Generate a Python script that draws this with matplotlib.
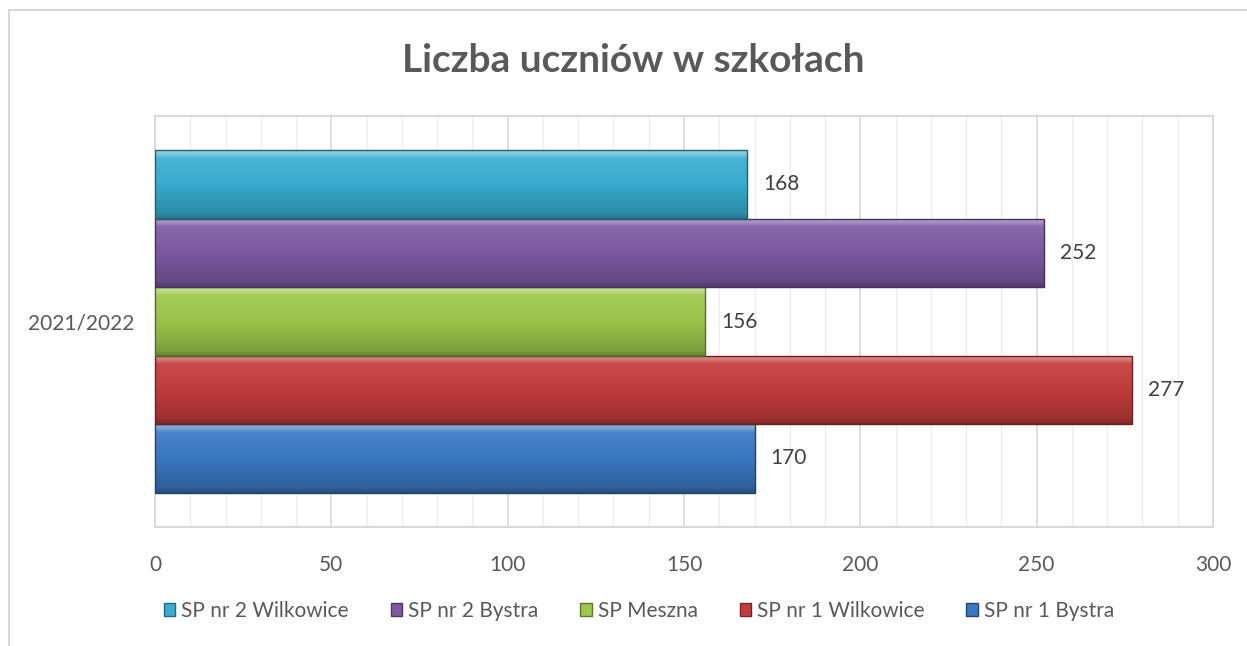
import matplotlib
matplotlib.use("Agg")
import matplotlib.pyplot as plt
import numpy as np
from matplotlib.colors import LinearSegmentedColormap, to_rgb
from matplotlib.ticker import MultipleLocator
from matplotlib.patches import Rectangle, Patch

# ---- data ----
category = "2021/2022"
series = ["SP nr 1 Bystra", "SP nr 1 Wilkowice", "SP Meszna", "SP nr 2 Bystra", "SP nr 2 Wilkowice"]
values = [170, 277, 156, 252, 168]
colors = ["#3A78C3", "#C43C3C", "#9CC84B", "#7E5AA4", "#38AED2"]
title = "Liczba uczniów w szkołach"
xticks = [0, 50, 100, 150, 200, 250, 300]

plt.rcParams['font.family'] = ['Lato', 'DejaVu Sans']
txt = "#595959"

fig = plt.figure(figsize=(12.47, 6.46), dpi=100)
# outer chart border
fig.patches.append(Rectangle((9 / 1247, -0.01), 1.02, 1 - 10 / 646 + 0.01, transform=fig.transFigure,
                             fill=False, edgecolor="#D9D9D9", linewidth=1.5, zorder=0))

ax = fig.add_axes([155 / 1247, 1 - 527 / 646, (1213 - 155) / 1247, (527 - 116) / 646])

n = len(values)
h = 1.0 / (n + 1)
pos = [-0.5 + h / 2 + h * (i + 0.5) for i in range(n)]


def shade(c, f):
    r = np.array(to_rgb(c))
    if f >= 0:
        return tuple(r + (1 - r) * f)
    return tuple(r * (1 + f))


bars = ax.barh(pos, values, height=h, color=colors, edgecolor="none", zorder=3)
for b, c in zip(bars, colors):
    x0, y0 = b.get_x(), b.get_y()
    w, hh = b.get_width(), b.get_height()
    cmap = LinearSegmentedColormap.from_list(
        "g", [(0.0, shade(c, -0.35)), (0.08, shade(c, -0.2)), (0.5, shade(c, -0.02)),
              (0.88, shade(c, 0.08)), (0.93, shade(c, 0.3)), (1.0, shade(c, 0.45))])
    grad = np.linspace(0, 1, 256).reshape(-1, 1)
    im = ax.imshow(grad, extent=[x0, x0 + w, y0, y0 + hh], origin="lower", cmap=cmap,
                   aspect="auto", zorder=4, interpolation="bicubic")
    im.set_clip_path(b)
    ax.add_patch(Rectangle((x0, y0), w, hh, fill=False, edgecolor=shade(c, -0.45),
                           linewidth=1.0, zorder=5))
    ax.text(x0 + w + 4.5, y0 + hh / 2, f"{w:g}", va="center", ha="left",
            fontsize=15, color="#404040", zorder=6)

ax.set_xlim(0, 300)
ax.set_ylim(-0.5, 0.5)
ax.set_xticks(xticks)
ax.xaxis.set_minor_locator(MultipleLocator(10))
ax.set_yticks([0])
ax.set_yticklabels([category])
ax.tick_params(axis="both", length=0, which="both", labelsize=15, labelcolor=txt)
ax.tick_params(axis="x", pad=20)
ax.tick_params(axis="y", pad=15)
ax.grid(axis="x", which="major", color="#D9D9D9", linewidth=1.2, zorder=0)
ax.grid(axis="x", which="minor", color="#EDEDED", linewidth=1.0, zorder=0)
ax.set_axisbelow(True)
for s in ax.spines.values():
    s.set_color("#D9D9D9")
    s.set_linewidth(1.5)

fig.text(633 / 1247, 1 - 60 / 646, title, ha="center", va="center", fontsize=28,
         fontweight="bold", color=txt)

handles = [Patch(facecolor=colors[i], edgecolor=shade(colors[i], -0.4)) for i in range(n)][::-1]
labels = series[::-1]
fig.legend(handles, labels, loc="center", bbox_to_anchor=(639 / 1247, 1 - 611 / 646), ncol=n,
           frameon=False, fontsize=15, labelcolor=txt, handlelength=0.55, handleheight=0.6,
           handletextpad=0.3, columnspacing=2.0)

fig.savefig("out.png", dpi=100)
